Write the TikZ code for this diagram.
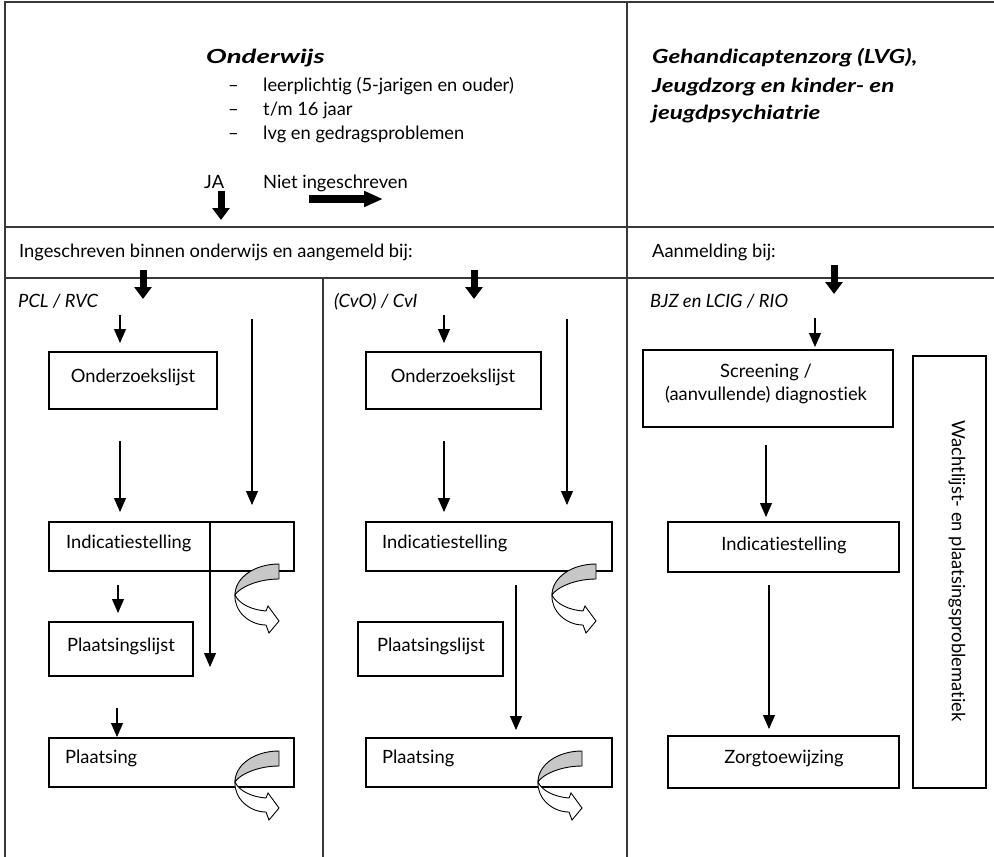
\documentclass[tikz,border=0pt]{standalone}
\usepackage{fontspec}
\setmainfont{Lato}[Ligatures=NoCommon]
\newfontfamily\headfont[FakeStretch=1.25,Ligatures=NoCommon]{Lato}
\newfontfamily\headfontw[FakeStretch=1.42,Ligatures=NoCommon]{Lato}
\usetikzlibrary{arrows.meta}
\newcommand\fs{\fontsize{18.4}{22}\selectfont}
\newcommand\fsh{\headfont\fontsize{19.5}{23}\selectfont\bfseries\itshape}
\newcommand\fshw{\headfontw\fontsize{19.5}{23}\selectfont\bfseries\itshape}
\begin{document}
\begin{tikzpicture}[x=1bp,y=-1bp,
  frame/.style={draw=black!78, line width=1.5bp},
  box/.style={draw=black, line width=1.2bp, fill=white, inner sep=0pt},
  txt/.style={inner sep=0pt, font=\fs},
  head/.style={inner sep=0pt, font=\fsh, anchor=base west},
  lbl/.style={inner sep=0pt, font=\fs\itshape, anchor=base west},
  thinarr/.style={draw=black, line width=1.1bp, -{Triangle[length=14bp,width=12bp]}},
  thickarr/.style={draw=black, line width=7bp, -{Triangle[length=12bp,width=17bp]}},
  curvarr/.pic={
    \filldraw[fill=black!22, draw=black, line width=0.9bp]
      (0,0) .. controls (-25,0) and (-44,14) .. (-44,31)
      .. controls (-40,24) and (-22,15) .. (0,15) -- cycle;
    \filldraw[fill=white, draw=black, line width=0.9bp]
      (-44,31) .. controls (-45,47) and (-30,61) .. (-13,61)
      -- (-10,69) -- (0,57) -- (-11,42) -- (-13,47)
      .. controls (-27,46) and (-40,40) .. (-44,31) -- cycle;
  }
]
\useasboundingbox (0,0) rectangle (994,857);

% frame
\coordinate (fTL) at (5,2);
\coordinate (fTR) at (994,2);
\coordinate (fBL) at (5,857);
\coordinate (fMT) at (627,2);
\coordinate (fMB) at (627,857);
\coordinate (h1L) at (5,227);
\coordinate (h1R) at (994,227);
\coordinate (h2L) at (5,278);
\coordinate (h2R) at (994,278);
\coordinate (vLT) at (323,278);
\coordinate (vLB) at (323,857);
\draw[frame] (fBL) -- (fTL) -- (fTR);
\draw[frame] (fMT) -- (fMB);
\draw[frame] (h1L) -- (h1R);
\draw[frame] (h2L) -- (h2R);
\draw[frame] (vLT) -- (vLB);

% header texts
\node[head, font=\fshw] (onderwijs) at (206,63) {Onderwijs};
\node[txt, anchor=base west] (d1) at (228,91) {–};
\node[txt, anchor=base west] (d2) at (228,115) {–};
\node[txt, anchor=base west] (d3) at (228,139) {–};
\node[txt, anchor=base west] (b1) at (263,91) {leerplichtig (5-jarigen en ouder)};
\node[txt, anchor=base west] (b2) at (263,115) {t/m 16 jaar};
\node[txt, anchor=base west] (b3) at (263,139) {lvg en gedragsproblemen};
\node[txt, anchor=base west] (ja) at (204,188) {JA};
\node[txt, anchor=base west] (niet) at (263,188) {Niet ingeschreven};
\node[head] (g1) at (652,63) {Gehandicaptenzorg (LVG),};
\node[head] (g2) at (652,92) {Jeugdzorg en kinder- en};
\node[head] (g3) at (652,119) {jeugdpsychiatrie};

\coordinate (jaS) at (221,191); \coordinate (jaE) at (221,220);
\draw[thickarr] (jaS) -- (jaE);
\coordinate (niS) at (309,199); \coordinate (niE) at (383,199);
\draw[draw=black, line width=7.5bp, -{Triangle[length=19bp,width=15bp]}] (niS) -- (niE);

\node[txt, anchor=base west] (ingesch) at (19,257) {Ingeschreven binnen onderwijs en aangemeld bij:};
\node[txt, anchor=base west] (aanm) at (652,257) {Aanmelding bij:};

\coordinate (tLs) at (143,270); \coordinate (tLe) at (143,299);
\coordinate (tMs) at (474,270); \coordinate (tMe) at (474,299);
\coordinate (tRs) at (834,265); \coordinate (tRe) at (834,294);
\draw[thickarr] (tLs) -- (tLe);
\draw[thickarr] (tMs) -- (tMe);
\draw[thickarr] (tRs) -- (tRe);

\node[lbl] (pcl) at (18,307) {PCL / RVC};
\node[lbl] (cvo) at (334,307) {(CvO) / CvI};
\node[lbl] (bjz) at (650,307) {BJZ en LCIG / RIO};

% boxes
\node[box, minimum width=168bp, minimum height=57bp] (onzL) at (133,380.5) {};
\node[box, minimum width=245bp, minimum height=49bp] (indL) at (171.5,546.5) {};
\node[box, minimum width=144bp, minimum height=54bp] (plsL) at (121,649) {};
\node[box, minimum width=245bp, minimum height=49bp] (plL) at (171.5,762.5) {};
\node[box, minimum width=175bp, minimum height=57bp] (onzM) at (453.5,380.5) {};
\node[box, minimum width=246bp, minimum height=49bp] (indM) at (489,546.5) {};
\node[box, minimum width=145bp, minimum height=54bp] (plsM) at (430.5,649) {};
\node[box, minimum width=246bp, minimum height=49bp] (plM) at (489,762.5) {};
\node[box, minimum width=250bp, minimum height=77bp] (scr) at (768,388.5) {};
\node[box, minimum width=231bp, minimum height=50bp] (indR) at (783.5,547) {};
\node[box, minimum width=231bp, minimum height=52bp] (zorg) at (783.5,762) {};
\node[box, minimum width=73bp, minimum height=432bp] (wacht) at (949.5,572) {};

% box texts
\node[txt, anchor=base] (tonzL) at (133,382) {Onderzoekslijst};
\node[txt, anchor=base west] (tindL) at (66,548) {Indicatiestelling};
\node[txt, anchor=base] (tplsL) at (121,651) {Plaatsingslijst};
\node[txt, anchor=base west] (tplL) at (65,763) {Plaatsing};
\node[txt, anchor=base] (tonzM) at (453,382) {Onderzoekslijst};
\node[txt, anchor=base west] (tindM) at (382,548) {Indicatiestelling};
\node[txt, anchor=base] (tplsM) at (431,651) {Plaatsingslijst};
\node[txt, anchor=base west] (tplM) at (382,763) {Plaatsing};
\node[txt, anchor=base] (tscr1) at (766,377) {Screening /};
\node[txt, anchor=base] (tscr2) at (766,400) {(aanvullende) diagnostiek};
\node[txt, anchor=base] (tindR) at (784,550) {Indicatiestelling};
\node[txt, anchor=base] (tzorg) at (784,763) {Zorgtoewijzing};
\node[txt, rotate=-90] (twacht) at (957,571) {Wachtlijst- en plaatsingsproblematiek};

% thin arrows, left column
\coordinate (l1s) at (120,315); \coordinate (l1e) at (120,343);
\coordinate (l2s) at (120,441); \coordinate (l2e) at (120,512);
\coordinate (l3s) at (252,319); \coordinate (l3e) at (252,505);
\coordinate (l4s) at (210,522); \coordinate (l4e) at (210,667);
\coordinate (l5s) at (118,585); \coordinate (l5e) at (118,613);
\coordinate (l6s) at (117,708); \coordinate (l6e) at (117,737);
\draw[thinarr] (l1s) -- (l1e);
\draw[thinarr] (l2s) -- (l2e);
\draw[thinarr] (l3s) -- (l3e);
\draw[thinarr] (l4s) -- (l4e);
\draw[thinarr] (l5s) -- (l5e);
\draw[thinarr] (l6s) -- (l6e);
% middle column
\coordinate (m1s) at (444,315); \coordinate (m1e) at (444,343);
\coordinate (m2s) at (444,441); \coordinate (m2e) at (444,512);
\coordinate (m3s) at (567,319); \coordinate (m3e) at (567,505);
\coordinate (m4s) at (516,585); \coordinate (m4e) at (516,730);
\draw[thinarr] (m1s) -- (m1e);
\draw[thinarr] (m2s) -- (m2e);
\draw[thinarr] (m3s) -- (m3e);
\draw[thinarr] (m4s) -- (m4e);
% right column
\coordinate (r1s) at (815,318); \coordinate (r1e) at (815,347);
\coordinate (r2s) at (766,445); \coordinate (r2e) at (766,517);
\coordinate (r3s) at (769,585); \coordinate (r3e) at (769,729);
\draw[thinarr] (r1s) -- (r1e);
\draw[thinarr] (r2s) -- (r2e);
\draw[thinarr] (r3s) -- (r3e);

% curved arrows
\pic at (279,564) {curvarr};
\pic at (279,751) {curvarr};
\pic at (596,564) {curvarr};
\pic at (582,751) {curvarr};
\end{tikzpicture}
\end{document}
